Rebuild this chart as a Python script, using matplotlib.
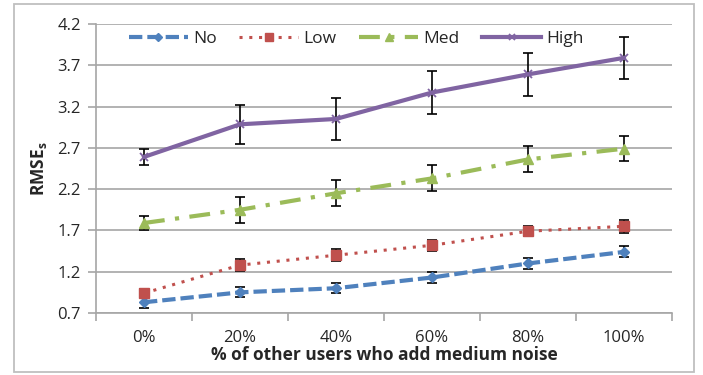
import matplotlib
matplotlib.use("Agg")
import matplotlib.pyplot as plt
from matplotlib.patches import Rectangle

plt.rcParams['font.family'] = ['Open Sans', 'DejaVu Sans']

categories = ["0%", "20%", "40%", "60%", "80%", "100%"]

no_vals = [0.83, 0.95, 1.00, 1.13, 1.30, 1.44]
no_err = [0.065, 0.06, 0.06, 0.067, 0.07, 0.067]

low_vals = [0.94, 1.28, 1.40, 1.52, 1.69, 1.75]
low_err = [0.05, 0.07, 0.07, 0.07, 0.06, 0.076]

med_vals = [1.79, 1.95, 2.15, 2.33, 2.56, 2.69]
med_err = [0.08, 0.16, 0.16, 0.157, 0.157, 0.15]

high_vals = [2.59, 2.985, 3.05, 3.37, 3.59, 3.79]
high_err = [0.10, 0.24, 0.25, 0.26, 0.256, 0.256]

y_ticks = [0.7, 1.2, 1.7, 2.2, 2.7, 3.2, 3.7, 4.2]

fig = plt.figure(figsize=(7.03, 3.75), dpi=100)
ax = fig.add_axes([96 / 703, 1 - 313 / 375, (672 - 96) / 703, (313 - 24) / 375])

x = list(range(len(categories)))
grid_c = "#a6a6a6"

series = [
    ("No", no_vals, no_err, "#4F81BD", dict(linestyle=(0, (3.2, 1.2)), linewidth=3.0, marker="D", markersize=5)),
    ("Low", low_vals, low_err, "#C0504D", dict(linestyle=(0, (1, 2.2)), linewidth=2.2, marker="s", markersize=7.5)),
    ("Med", med_vals, med_err, "#9BBB59", dict(linestyle=(0, (5, 2.5, 1, 2.5)), linewidth=3.0, marker="^", markersize=7)),
    ("High", high_vals, high_err, "#8064A2", dict(linestyle="-", linewidth=3.0, marker="x", markersize=6, markeredgewidth=1.3)),
]

for label, vals, err, color, style in series:
    ax.errorbar(x, vals, yerr=err, fmt="none", ecolor="black", elinewidth=1.2,
                capsize=3.5, capthick=1.2, zorder=3)
    ax.plot(x, vals, color=color, label=label, zorder=4, **style)

ax.set_xlim(-0.5, len(categories) - 0.5)
ax.set_ylim(0.7, 4.2)
ax.set_yticks(y_ticks)
ax.set_yticklabels([f"{v:.1f}" for v in y_ticks])
ax.set_xticks(x)
ax.set_xticklabels(categories)
ax.set_xticks([i - 0.5 for i in range(len(categories) + 1)], minor=True)

ax.grid(axis="y", color=grid_c, linewidth=1.2, zorder=0)
for s in ["top", "right"]:
    ax.spines[s].set_visible(False)
for s in ["left", "bottom"]:
    ax.spines[s].set_color(grid_c)
    ax.spines[s].set_linewidth(1.2)

ax.tick_params(axis="x", which="major", length=0, labelsize=12, pad=12, colors="#262626")
ax.tick_params(axis="x", which="minor", length=6, width=1.2, color=grid_c)
ax.tick_params(axis="y", length=6, width=1.2, color=grid_c, labelsize=12, pad=5, labelcolor="#262626")

ax.set_xlabel("% of other users who add medium noise", fontsize=12.5, fontweight="bold",
              color="#262626", labelpad=0)
ax.set_ylabel("RMSE$_\\mathregular{s}$", fontsize=12.5, fontweight="bold", color="#262626", labelpad=6)

leg = ax.legend(loc="upper left", bbox_to_anchor=(0.03, 1.03), ncol=4, frameon=False,
                fontsize=12.5, handlelength=3.4, columnspacing=1.3, handletextpad=0.3,
                markerscale=0.75)
for t in leg.get_texts():
    t.set_color("#262626")

fig.patches.append(Rectangle((14 / 703, 1 - 372 / 375), (694 - 14) / 703, (372 - 4) / 375,
                             transform=fig.transFigure, fill=False, edgecolor="#bfbfbf",
                             linewidth=1.3))

fig.savefig("out.png", dpi=100)
